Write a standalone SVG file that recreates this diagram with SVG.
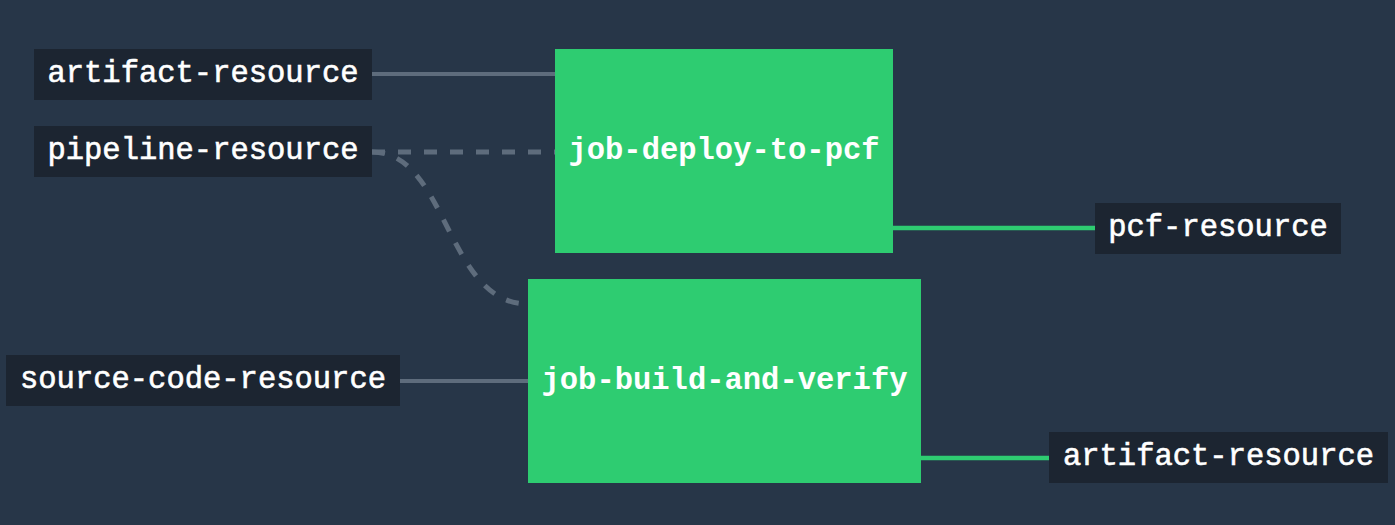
<svg xmlns="http://www.w3.org/2000/svg" width="1395" height="525" viewBox="0 0 1395 525">
<style>
.res rect{fill:#1c2531}
.job rect{fill:#2ecc71}
text{font-family:"Liberation Mono","Courier New",monospace;font-weight:bold;font-size:30.5px;fill:#ffffff;text-anchor:middle;dominant-baseline:central}
.res text{font-weight:normal;stroke:#ffffff;stroke-width:0.6}
.in{stroke:#5e6c7c;stroke-width:4;fill:none}
.dash{stroke-width:5;stroke-dasharray:13 13}
.out{stroke:#2ecc71;stroke-width:4.5;fill:none}
</style>
<rect width="1395" height="525" fill="#273648"/>
<g id="connectors">
<path class="in" d="M372,74 H555"/>
<path class="in dash" d="M372,152 H555"/>
<path class="in dash" d="M372,152 C448,152 446,304 528,304"/>
<path class="in" d="M400,381 H528"/>
<path class="out" d="M893,228 H1095"/>
<path class="out" d="M921,458 H1049"/>
</g>
<g id="res-artifact-in" class="res"><rect x="34" y="49" width="338" height="51"/><text x="203" y="74">artifact-resource</text></g>
<g id="res-pipeline" class="res"><rect x="34" y="126" width="338" height="51"/><text x="203" y="151">pipeline-resource</text></g>
<g id="res-source" class="res"><rect x="6" y="355" width="394" height="51"/><text x="203" y="380">source-code-resource</text></g>
<g id="res-pcf" class="res"><rect x="1095" y="203" width="246" height="51"/><text x="1218" y="228">pcf-resource</text></g>
<g id="res-artifact-out" class="res"><rect x="1049" y="432" width="339" height="51"/><text x="1218.5" y="457">artifact-resource</text></g>
<g id="job-deploy" class="job"><rect x="555" y="49" width="338" height="204"/><text x="724" y="151">job-deploy-to-pcf</text></g>
<g id="job-build" class="job"><rect x="528" y="279" width="393" height="204"/><text x="724.5" y="381">job-build-and-verify</text></g>
</svg>
